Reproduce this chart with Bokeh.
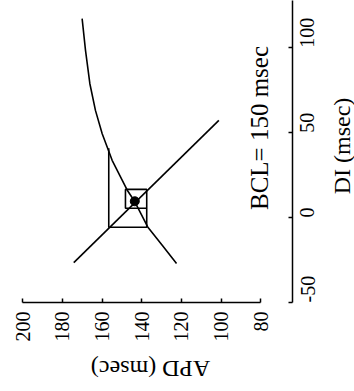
import math
from bokeh.plotting import figure
from bokeh.models import Range1d, LinearAxis, FixedTicker, Label
from bokeh.embed import file_html
from bokeh.resources import INLINE

# ---- data ----
apd_ticks = [80, 100, 120, 140, 160, 180, 200]
di_ticks = [-50, 0, 50, 100]

# restitution curve APD = f(DI)
curve_di = [-27.1, -16.3, -5.5, 9.6, 16.1, 33.7, 49.4, 63.1, 78.8, 98.4, 117.1]
curve_apd = [122.5, 129.7, 137.0, 143.6, 147.3, 154.9, 159.9, 163.3, 166.1, 168.3, 170.0]

# line DI = BCL - APD
line_di = [-26.5, 57.2]
line_apd = [174.2, 101.2]

# cobweb iteration
cob_di = [40.8, -5.7, -5.7, 16.6, 16.6, 5.5, 5.5]
cob_apd = [156.6, 156.6, 137.5, 137.5, 148.2, 148.2, 137.5]

# fixed point
fix_di = [9.6]
fix_apd = [143.5]

bcl_text = "BCL= 150 msec"
apd_label = "APD (msec)"
di_label = "DI (msec)"

FONT = "Liberation Serif"

W, H = 354, 391
FW, FH = 292, 302
xr = Range1d(211.07, 64.15)
yr = Range1d(-50, 127.8)


def sx_to_x(sx):
    return xr.start + (xr.end - xr.start) * sx / FW


def sy_to_y(sy):
    return yr.end - (yr.end - yr.start) * sy / FH


p = figure(
    width=W, height=H,
    min_border_left=0, min_border_top=0,
    min_border_right=W - FW, min_border_bottom=H - FH,
    x_range=xr, y_range=yr,
    output_backend="svg", toolbar_location=None,
    x_axis_location=None, y_axis_location=None,
)
p.outline_line_color = None
p.xgrid.visible = False
p.ygrid.visible = False
p.background_fill_color = "white"
p.border_fill_color = "white"

# APD axis (horizontal, below)
ax = LinearAxis(bounds=(80, 200), ticker=FixedTicker(ticks=apd_ticks))
# DI axis (vertical, right)
ay = LinearAxis(bounds=(-50, 130), ticker=FixedTicker(ticks=di_ticks),
                major_label_overrides={-50: "-50"})
for a in (ax, ay):
    a.major_tick_in = 4
    a.major_tick_out = 0
    a.minor_tick_line_color = None
    a.axis_line_color = "black"
    a.axis_line_width = 1.5
    a.major_tick_line_color = "black"
    a.major_tick_line_width = 1.5
    a.major_label_orientation = math.pi / 2
    a.major_label_text_font = FONT
    a.major_label_text_font_size = "20px"
    a.major_label_text_color = "black"
ax.major_label_standoff = 9
ay.major_label_standoff = 15
p.add_layout(ax, "below")
p.add_layout(ay, "right")

# restitution curve
p.line(curve_apd, curve_di, line_color="black", line_width=1.6)
# BCL line
p.line(line_apd, line_di, line_color="black", line_width=1.6)
# cobweb
p.line(cob_apd, cob_di, line_color="black", line_width=1.6)
# fixed point
p.scatter(fix_apd, fix_di, size=9, color="black")

# BCL text inside the plot (screen units relative to frame bottom-left)
p.add_layout(Label(x=258.5, y=FH - 127.5, x_units="screen", y_units="screen",
                   text=bcl_text, angle=math.pi / 2, text_align="center",
                   text_baseline="middle", text_font=FONT,
                   text_font_size="25px", text_color="black"))

# axis titles placed in the side panels
p.add_layout(Label(x=sx_to_x(150), y=sy_to_y(368),
                   text=apd_label, angle=math.pi, text_align="center",
                   text_baseline="middle", text_font=FONT,
                   text_font_size="24px", text_color="black"), "below")
p.add_layout(Label(x=sx_to_x(341), y=sy_to_y(145.5),
                   text=di_label, angle=math.pi / 2, text_align="center",
                   text_baseline="middle", text_font=FONT,
                   text_font_size="24px", text_color="black"), "right")

open("out.html", "w").write(file_html(p, INLINE))
